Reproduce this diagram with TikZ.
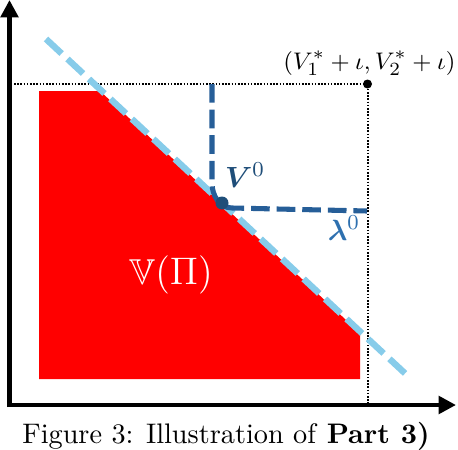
\documentclass[tikz,border=0pt]{standalone}
\usepackage{amsmath,amssymb,bm}
\usetikzlibrary{arrows.meta}
\definecolor{redfill}{RGB}{255,0,0}
\definecolor{lightline}{RGB}{135,204,234}
\definecolor{darkline}{RGB}{38,94,152}
\definecolor{vlabel}{RGB}{31,78,121}
\definecolor{llabel}{RGB}{46,112,175}
\tikzset{
  axis/.style={line width=1.6pt,-{Triangle[length=6.5pt,width=6.5pt]}},
  guide/.style={line width=0.75pt,dash pattern=on 0.6pt off 0.6pt},
  budget/.style={lightline,line width=2.4pt,dash pattern=on 8pt off 3pt},
  level/.style={darkline,line width=1.9pt,dash pattern=on 7pt off 2.6pt},
}
\begin{document}
\begin{tikzpicture}[x=0.375pt,y=-0.375pt]
\useasboundingbox (0,0) rectangle (458,450);
% points
\coordinate (O) at (9.5,405);
\coordinate (ytip) at (9.5,0);
\coordinate (xstart) at (7,405);
\coordinate (xtip) at (456,405);
\coordinate (P) at (367.5,84);
\coordinate (hl) at (14,84);
\coordinate (vb) at (367.5,405);
\coordinate (b1) at (46,39);
\coordinate (b2) at (410,378);
\coordinate (v0) at (222,203);
\coordinate (d1) at (212,84);
\coordinate (d2) at (367,211);
% red region
\fill[redfill] (39,91) -- (100,91) -- (360,333) -- (360,379) -- (39,379) -- cycle;
\node[white,font=\fontsize{13.5}{16}\selectfont] (VP) at (171,275) {$\mathbb{V}(\Pi)$};
% guides
\draw[guide] (hl) -- (P) -- (vb);
\fill (P) circle (4.5);
% budget line
\draw[budget] (b1) -- (b2);
% level set
\draw[level] (d1) -- (212,183) to[out=-90,in=180] (232,208) -- (d2);
\fill[vlabel] (v0) circle (6.5);
% axes
\draw[axis] (xstart) -- (xtip);
\draw[axis] (9.5,407) -- (ytip);
% labels
\node[font=\fontsize{9.5}{11}\selectfont,anchor=east,inner sep=0pt] (Plab) at (456,63) {$(V_1^*+\iota, V_2^*+\iota)$};
\node[vlabel,font=\fontsize{11}{13}\selectfont] (Vlab) at (245,175) {$\bm{V}^0$};
\node[llabel,font=\fontsize{11}{13}\selectfont] (Llab) at (344,228) {$\bm{\lambda}^0$};
\node[font=\fontsize{10.6}{12}\selectfont] (cap) at (226,436) {Figure 3: Illustration of \textbf{Part 3)}};
\end{tikzpicture}
\end{document}
